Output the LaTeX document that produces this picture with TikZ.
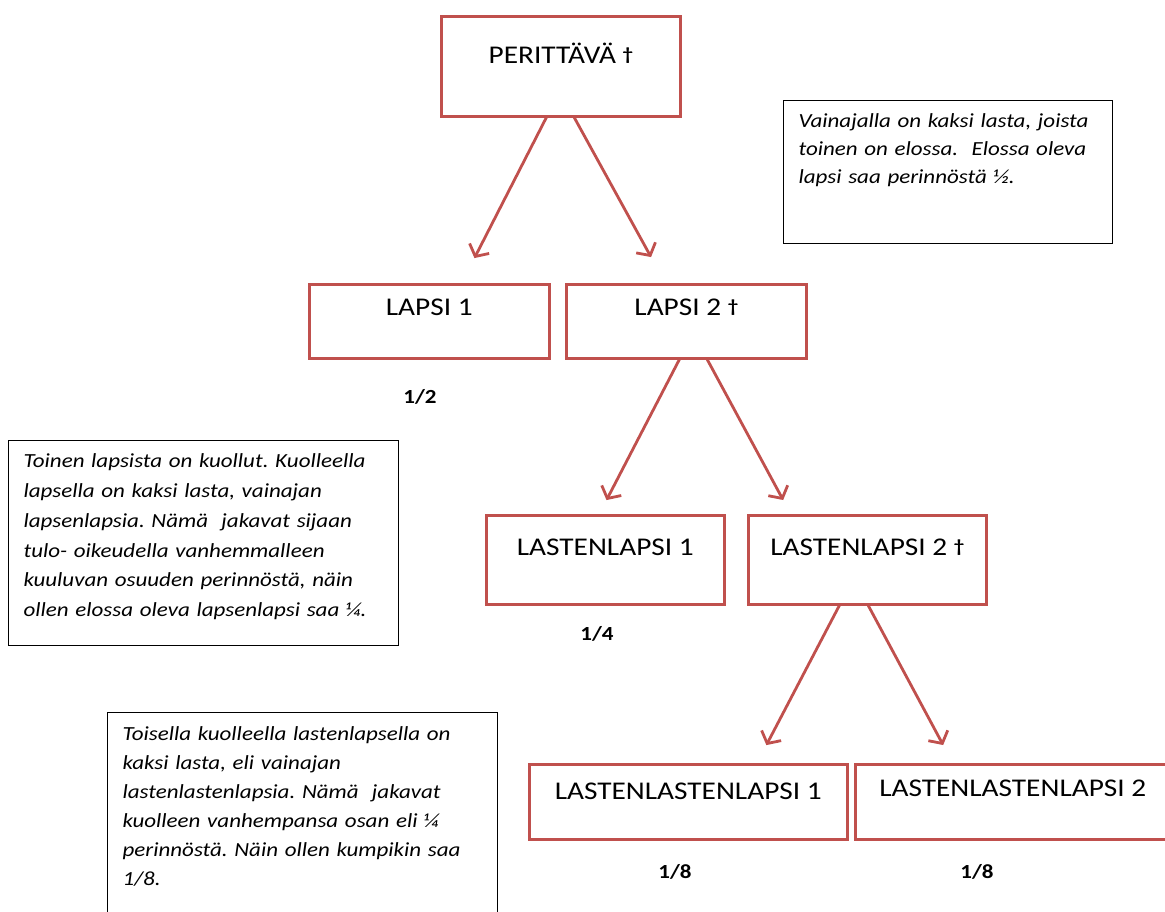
\documentclass[tikz,border=0pt]{standalone}
\usepackage{fontspec}
\setmainfont{Carlito}[FakeStretch=1.15]
\usetikzlibrary{arrows.meta}
\definecolor{kinred}{HTML}{C0504D}
\newcommand{\deceased}{\ {\bfseries\fontsize{18}{18}\selectfont\raisebox{3pt}{†}}}
\frenchspacing
\begin{document}
\begin{tikzpicture}[
        x=1pt, y=-1pt,
        member/.style n args={3}{
            draw=kinred,
            line width=2.6pt,
            anchor=north west,
            inner sep=0pt,
            minimum width=#1pt,
            text height=#2pt,
            text depth=#3pt,
            font=\fontsize{25.5}{30}\selectfont
        },
        note/.style={
            draw,
            line width=1.2pt,
            anchor=north west,
            align=left,
            inner xsep=15pt,
            inner ysep=0pt,
            font=\itshape\fontsize{20}{29}\selectfont
        },
        share/.style={anchor=base, font=\bfseries\fontsize{20}{20}\selectfont},
        descent/.style={-{Straight Barb[length=9pt,width=22pt]}, draw=kinred, line width=2.8pt}
    ]
        \useasboundingbox (0,0) rectangle (1165,912);

        \node[member={239}{47}{53}] (perittava) at (440,15) {PERITTÄVÄ\deceased};
        \node[member={240}{31}{43}] (lapsi1) at (308,283) {LAPSI 1};
        \node[member={240}{31}{43}] (lapsi2) at (565,283) {LAPSI 2\deceased};
        \node[member={238}{40}{49}] (lastenlapsi1) at (485,514) {LASTENLAPSI 1};
        \node[member={238}{40}{49}] (lastenlapsi2) at (747,514) {LASTENLAPSI 2\deceased};
        \node[member={318}{35}{40}] (llapsi1) at (528,763) {LASTENLASTENLAPSI 1};
        \node[member={315}{32}{43}] (llapsi2) at (854,763) {LASTENLASTENLAPSI 2};

        \node[share] (osuus1) at (420,403) {1/2};
        \node[share] (osuus2) at (597,640) {1/4};
        \node[share] (osuus3) at (675,878) {1/8};
        \node[share] (osuus4) at (977,878) {1/8};

        \node[note, text width=299pt, text height=27pt, text depth=116pt, font=\itshape\fontsize{20}{28}\selectfont] (selitys1) at (783,100)
            {Vainajalla on kaksi lasta, joista\\ toinen on elossa.~ Elossa oleva\\ lapsi saa perinnöstä ½.};
        \node[note, text width=360pt, text height=27pt, text depth=178pt, font=\itshape\fontsize{20}{29.8}\selectfont] (selitys2) at (8,440)
            {Toinen lapsista on kuollut. Kuolleella\\ lapsella on kaksi lasta, vainajan\\ lapsenlapsia. Nämä~ jakavat sijaan\\ tulo- oikeudella vanhemmalleen\\ kuuluvan osuuden perinnöstä, näin\\ ollen elossa oleva lapsenlapsi saa ¼.};
        \node[note, text width=360pt, text height=28pt, text depth=185pt] (selitys3) at (107,712)
            {Toisella kuolleella lastenlapsella on\\ kaksi lasta, eli vainajan\\ lastenlastenlapsia. Nämä~ jakavat\\ kuolleen vanhempansa osan eli ¼\\ perinnöstä. Näin ollen kumpikin saa\\ 1/8.};

        \draw[descent, shorten >=28pt] ([xshift=-14.5pt]perittava.south) -- ([xshift=32.4pt]lapsi1.north);
        \draw[descent, shorten >=29.6pt] ([xshift=13.5pt]perittava.south) -- ([xshift=-21pt]lapsi2.north);
        \draw[descent, shorten >=15.7pt] ([xshift=-7pt]lapsi2.south) -- ([xshift=-6pt]lastenlapsi1.north);
        \draw[descent, shorten >=15.9pt] ([xshift=21pt]lapsi2.south) -- ([xshift=-76.6pt]lastenlapsi2.north);
        \draw[descent, shorten >=20.2pt] ([xshift=-28pt]lastenlapsi2.south) -- ([xshift=68.7pt]llapsi1.north);
        \draw[descent, shorten >=20.4pt] ([xshift=1pt]lastenlapsi2.south) -- ([xshift=-60pt]llapsi2.north);
    \end{tikzpicture}
\end{document}
